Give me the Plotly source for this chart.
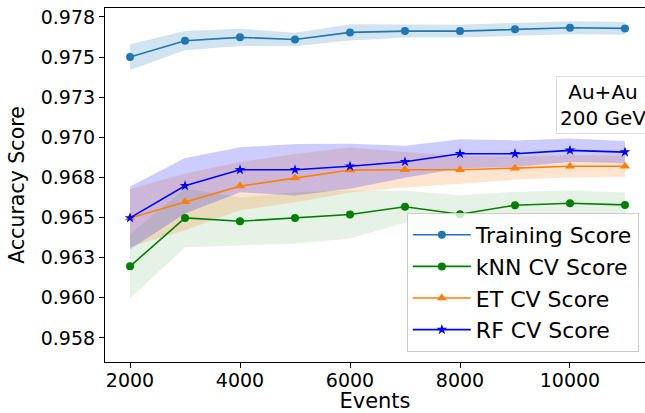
import plotly.graph_objects as go

events = [2000, 3000, 4000, 5000, 6000, 7000, 8000, 9000, 10000, 11000]

train_mean = [0.97500, 0.97602, 0.97623, 0.97610, 0.97654, 0.97662, 0.97662, 0.97673, 0.97683, 0.97679]
train_std = [0.0008, 0.0006, 0.00054, 0.00042, 0.0005, 0.0004, 0.0004, 0.0004, 0.0004, 0.0004]

knn_mean = [0.96196, 0.96498, 0.96477, 0.96498, 0.96519, 0.96567, 0.96521, 0.96577, 0.96589, 0.96579]
knn_std = [0.0020, 0.00183, 0.0015, 0.0016, 0.0015, 0.0010, 0.0012, 0.00083, 0.0008, 0.00077]

et_mean = [0.96498, 0.96598, 0.96696, 0.96746, 0.96796, 0.96798, 0.96798, 0.96808, 0.96820, 0.96820]
et_std = [0.0018, 0.00177, 0.0015, 0.0015, 0.0014, 0.0011, 0.00087, 0.00073, 0.0007, 0.00067]

rf_mean = [0.96498, 0.96698, 0.96798, 0.96798, 0.96820, 0.96848, 0.96898, 0.96898, 0.96919, 0.96908]
rf_std = [0.00195, 0.00173, 0.0014, 0.0016, 0.0014, 0.0010, 0.0009, 0.00083, 0.00073, 0.00069]

series_names = ["Training Score", "kNN CV Score", "ET CV Score", "RF CV Score"]
ytick_vals = [0.9575, 0.9600, 0.9625, 0.9650, 0.9675, 0.9700, 0.9725, 0.9750, 0.9775]
ytick_text = ["0.958", "0.960", "0.963", "0.965", "0.968", "0.970", "0.973", "0.975", "0.978"]
xtick_vals = [2000, 4000, 6000, 8000, 10000]
xtick_text = ["2000", "4000", "6000", "8000", "10000"]

FONT = "DejaVu Sans"

series = [
    (train_mean, train_std, "#1f77b4", "rgba(31,119,180,0.2)", "circle", 8),
    (knn_mean, knn_std, "#008000", "rgba(0,128,0,0.1)", "circle", 8),
    (et_mean, et_std, "#ff7f0e", "rgba(255,127,14,0.2)", "triangle-up", 9),
    (rf_mean, rf_std, "#0000ff", "rgba(0,0,255,0.2)", "star", 8),
]

fig = go.Figure()

for mean, std, col, fcol, sym, sz in series:
    upper = [m + s for m, s in zip(mean, std)]
    lower = [m - s for m, s in zip(mean, std)]
    fig.add_trace(go.Scatter(
        x=events + events[::-1],
        y=upper + lower[::-1],
        fill="toself", fillcolor=fcol, mode="lines",
        line=dict(width=0, color=fcol), showlegend=False, hoverinfo="skip",
    ))

for (mean, std, col, fcol, sym, sz), name in zip(series, series_names):
    fig.add_trace(go.Scatter(
        x=events, y=mean, name=name, mode="lines+markers",
        line=dict(color=col, width=1.6),
        marker=dict(symbol=sym, size=sz, color=col, line=dict(width=0)),
    ))

fig.update_layout(
    width=645, height=413,
    margin=dict(l=105, r=0, t=8, b=51, autoexpand=False),
    plot_bgcolor="white", paper_bgcolor="white",
    font=dict(family=FONT, color="black", size=19),
    showlegend=True,
    legend=dict(
        x=0.559, y=0.4209, xanchor="left", yanchor="top",
        bgcolor="rgba(255,255,255,0.8)", bordercolor="#cccccc", borderwidth=1,
        font=dict(family=FONT, size=22, color="black"),
        itemwidth=58,
    ),
    annotations=[dict(
        x=0.922, y=0.727, xref="paper", yref="paper",
        xanchor="center", yanchor="middle",
        text="Au+Au<br>200 GeV", showarrow=False, align="center",
        font=dict(family=FONT, size=20, color="black"),
        bgcolor="white", bordercolor="#dddddd", borderwidth=1, borderpad=3,
    )],
)

fig.update_xaxes(
    range=[1545, 11364], tickvals=xtick_vals, ticktext=xtick_text,
    showline=True, linecolor="black", linewidth=1.1, mirror=True,
    ticks="outside", ticklen=5, tickcolor="black", tickwidth=1.1,
    showgrid=False, zeroline=False, automargin=False,
    ticklabelstandoff=-4,
    tickfont=dict(family=FONT, size=19),
    title=dict(text="Events", font=dict(family=FONT, size=21), standoff=4),
)
fig.update_yaxes(
    range=[0.95600, 0.97806], tickvals=ytick_vals, ticktext=ytick_text,
    showline=True, linecolor="black", linewidth=1.1, mirror=False,
    ticks="outside", ticklen=5, tickcolor="black", tickwidth=1.1,
    showgrid=False, zeroline=False, automargin=False,
    tickfont=dict(family=FONT, size=19),
    title=dict(text="Accuracy Score", font=dict(family=FONT, size=20.5), standoff=10),
)

fig.write_html(
    "out.html",
    config={"displayModeBar": False},
    post_script="document.body.style.margin='0';",
)
